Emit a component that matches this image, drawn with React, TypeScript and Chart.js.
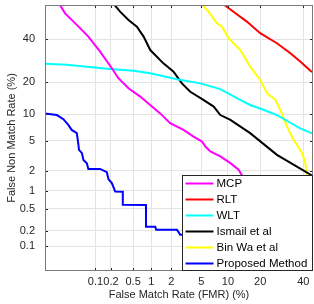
import React, { useEffect, useRef } from 'react';
import { Chart, Scale, registerables } from 'chart.js';

Chart.register(...registerables);

// ---- data (percent) ----
const xTicks = [0.1, 0.2, 0.5, 1, 2, 5, 10, 20, 40];
const yTicks = [0.1, 0.2, 0.5, 1, 2, 5, 10, 20, 40];
const xRange = [0.0079, 45.2];
const yRange = [0.0306, 58.4];

const seriesLabels = ['MCP', 'RLT', 'WLT', 'Ismail et al', 'Bin Wa et al', 'Proposed Method'];
const seriesColors = ['#ff00ff', '#ff0000', '#00ffff', '#000000', '#ffff00', '#0000ff'];

const mcpX = [0.016, 0.0229, 0.0413, 0.072, 0.124, 0.208, 0.275, 0.416, 0.66, 1.02, 1.37, 1.92, 2.95, 4.0, 5.1, 5.6, 6.4, 8.3, 10.6, 12.8, 14.2, 20];
const mcpY = [60, 53.9, 47.6, 41.3, 33.5, 25.7, 21.5, 17.7, 14.9, 11.96, 10.2, 8.0, 6.73, 5.62, 4.89, 4.24, 3.66, 3.15, 2.55, 2.06, 1.57, 0.86];

const rltX = [8.3, 11.4, 15.3, 20, 27, 33.4, 38.4, 43.8, 46];
const rltY = [60, 54.8, 49.4, 43.1, 37.8, 32.7, 28.7, 24.6, 23.5];

const wltX = [0.0075, 0.025, 0.067, 0.193, 0.51, 0.96, 2.4, 4.85, 8.3, 12.3, 16.4, 21.3, 27, 33.4, 38.4, 43.8, 46];
const wltY = [27.7, 27.2, 26.4, 25.4, 24.6, 23.5, 21.1, 19.5, 17.4, 14.4, 12.4, 11.1, 9.8, 8.1, 7.0, 6.26, 6.0];

const ismailX = [0.21, 0.295, 0.416, 0.58, 0.75, 0.96, 1.53, 2.15, 2.81, 3.63, 5.3, 7.0, 8.3, 10.6, 16.4, 27, 36.7, 46];
const ismailY = [60, 54.8, 50.3, 46.6, 41.3, 34.3, 27.9, 24.2, 19.5, 16.5, 13.9, 11.96, 9.8, 8.7, 6.17, 3.31, 2.29, 1.62];

const binWaX = [4.8, 6.1, 7.6, 8.65, 10.2, 13.3, 16.4, 20, 22.7, 26.3, 29.3, 31.7, 35, 39.4, 41.1, 41.6, 42.7];
const binWaY = [60, 54.8, 48.5, 46.6, 40.4, 34.3, 26.4, 20.8, 16.0, 13.9, 10.2, 7.34, 5.13, 3.48, 2.55, 1.95, 1.23];

const proposedX = [0.0075, 0.0149, 0.021, 0.027, 0.032, 0.0413, 0.0447, 0.046, 0.053, 0.057, 0.067, 0.072, 0.124, 0.167, 0.18, 0.208, 0.24, 0.33, 0.33, 0.82, 0.82, 1.15, 1.19, 2.4, 2.66, 3.63];
const proposedY = [10.2, 9.8, 8.85, 7.67, 6.73, 6.17, 4.45, 3.84, 3.48, 2.83, 2.55, 2.12, 2.12, 1.9, 1.5, 1.31, 0.97, 0.96, 0.587, 0.58, 0.24, 0.24, 0.21, 0.21, 0.17, 0.17];

const seriesX = [mcpX, rltX, wltX, ismailX, binWaX, proposedX];
const seriesY = [mcpY, rltY, wltY, ismailY, binWaY, proposedY];

// ---- normal deviate helpers ----
function probit(p: number): number {
  const a = [-3.969683028665376e1, 2.209460984245205e2, -2.759285104469687e2, 1.38357751867269e2, -3.066479806614716e1, 2.506628277459239];
  const b = [-5.447609879822406e1, 1.615858368580409e2, -1.556989798598866e2, 6.680131188771972e1, -1.328068155288572e1];
  const c = [-7.784894002430293e-3, -3.223964580411365e-1, -2.400758277161838, -2.549732539343734, 4.374664141464968, 2.938163982698783];
  const d = [7.784695709041462e-3, 3.224671290700398e-1, 2.445134137142996, 3.754408661907416];
  const pl = 0.02425;
  if (p <= 0) return -8;
  if (p >= 1) return 8;
  if (p < pl) {
    const q = Math.sqrt(-2 * Math.log(p));
    return (((((c[0] * q + c[1]) * q + c[2]) * q + c[3]) * q + c[4]) * q + c[5]) / ((((d[0] * q + d[1]) * q + d[2]) * q + d[3]) * q + 1);
  }
  if (p <= 1 - pl) {
    const q = p - 0.5;
    const r = q * q;
    return ((((((a[0] * r + a[1]) * r + a[2]) * r + a[3]) * r + a[4]) * r + a[5]) * q) / (((((b[0] * r + b[1]) * r + b[2]) * r + b[3]) * r + b[4]) * r + 1);
  }
  const q = Math.sqrt(-2 * Math.log(1 - p));
  return -(((((c[0] * q + c[1]) * q + c[2]) * q + c[3]) * q + c[4]) * q + c[5]) / ((((d[0] * q + d[1]) * q + d[2]) * q + d[3]) * q + 1);
}

function normCdf(z: number): number {
  const t = 1 / (1 + 0.3275911 * Math.abs(z) / Math.SQRT2);
  const y = 1 - (((((1.061405429 * t - 1.453152027) * t) + 1.421413741) * t - 0.284496736) * t + 0.254829592) * t * Math.exp(-(z * z) / 2);
  return z >= 0 ? 0.5 * (1 + y) : 0.5 * (1 - y);
}

class ProbitScale extends (Scale as any) {
  static id = 'probit';
  static defaults = {};
  determineDataLimits() {
    this.min = this.options.min;
    this.max = this.options.max;
  }
  buildTicks() {
    return [];
  }
  getLabelForValue(v: number) {
    return String(v);
  }
  getPixelForValue(v: number) {
    const a = probit(this.min / 100);
    const b = probit(this.max / 100);
    return this.getPixelForDecimal((probit(v / 100) - a) / (b - a));
  }
  getValueForPixel(px: number) {
    const a = probit(this.min / 100);
    const b = probit(this.max / 100);
    return 100 * normCdf(a + this.getDecimalForPixel(px) * (b - a));
  }
}
Chart.register(ProbitScale as any);

const FONT = { family: '"Liberation Sans", Arial, Helvetica, sans-serif', size: 11 };
const TEXT = '#262626';

const framePlugin = {
  id: 'frame',
  afterDatasetsDraw(chart: any) {
    const { ctx, chartArea: a, scales } = chart;
    ctx.save();
    ctx.strokeStyle = '#262626';
    ctx.lineWidth = 1;
    const tl = 3;
    ctx.beginPath();
    scales.x.ticks.forEach((t: any) => {
      const px = Math.round(scales.x.getPixelForValue(t.value)) + 0.5;
      ctx.moveTo(px, a.bottom);
      ctx.lineTo(px, a.bottom - tl);
      ctx.moveTo(px, a.top);
      ctx.lineTo(px, a.top + tl);
    });
    scales.y.ticks.forEach((t: any) => {
      const py = Math.round(scales.y.getPixelForValue(t.value)) + 0.5;
      ctx.moveTo(a.left, py);
      ctx.lineTo(a.left + tl, py);
      ctx.moveTo(a.right, py);
      ctx.lineTo(a.right - tl, py);
    });
    ctx.stroke();
    ctx.strokeStyle = '#7a7a7a';
    ctx.strokeRect(a.left + 0.5, a.top + 0.5, a.right - a.left - 1, a.bottom - a.top - 1);
    ctx.restore();
  },
  afterDraw(chart: any) {
    const { ctx, chartArea: a } = chart;
    const ds = chart.data.datasets;
    const rowH = 16;
    const boxLeft = 182.5;
    const boxTop = 175.5;
    const boxRight = a.right - 0.5;
    const boxBottom = a.bottom - 0.5;
    ctx.save();
    ctx.fillStyle = '#ffffff';
    ctx.fillRect(boxLeft, boxTop, boxRight - boxLeft, boxBottom - boxTop);
    ctx.strokeStyle = '#262626';
    ctx.lineWidth = 1;
    ctx.strokeRect(boxLeft, boxTop, boxRight - boxLeft, boxBottom - boxTop);
    ctx.font = `${FONT.size + 0.5}px ${FONT.family}`;
    ctx.textBaseline = 'middle';
    ctx.textAlign = 'left';
    ds.forEach((d: any, i: number) => {
      const y = boxTop + 8 + i * rowH;
      ctx.strokeStyle = d.borderColor;
      ctx.lineWidth = 2;
      ctx.beginPath();
      ctx.moveTo(boxLeft + 3, y);
      ctx.lineTo(boxLeft + 31, y);
      ctx.stroke();
      ctx.fillStyle = '#000';
      ctx.fillText(d.label, boxLeft + 34, y);
    });
    ctx.restore();
  },
};

export default function App() {
  const ref = useRef<HTMLCanvasElement | null>(null);
  useEffect(() => {
    if (!ref.current) return;
    const datasets = seriesLabels.map((label, i) => ({
      label,
      data: seriesX[i].map((x, j) => ({ x, y: seriesY[i][j] })),
      borderColor: seriesColors[i],
      backgroundColor: seriesColors[i],
      borderWidth: 2,
      pointRadius: 0,
      tension: 0,
      fill: false,
    }));
    const chart = new Chart(ref.current, {
      type: 'line',
      data: { datasets },
      options: {
        animation: false,
        responsive: false,
        events: [],
        layout: { padding: { top: 5, right: 1, left: 0, bottom: 0 } },
        plugins: { legend: { display: false }, tooltip: { enabled: false } },
        scales: {
          x: {
            type: 'probit' as any,
            position: 'bottom',
            min: xRange[0],
            max: xRange[1],
            afterBuildTicks: (s: any) => {
              s.ticks = xTicks.map((v) => ({ value: v }));
            },
            afterFit: (s: any) => {
              s.height = 33;
              s.paddingLeft = 0;
              s.paddingRight = 0;
              s.paddingTop = 0;
              s.paddingBottom = 0;
            },
            grid: { color: '#e4e4e4', drawTicks: false, lineWidth: 1 },
            border: { display: false },
            ticks: {
              autoSkip: false,
              maxRotation: 0,
              minRotation: 0,
              padding: 4,
              color: TEXT,
              font: FONT,
              callback: (v: any) => String(v),
            },
            title: {
              display: true,
              text: 'False Match Rate (FMR) (%)',
              color: TEXT,
              font: FONT,
              padding: { top: 0, bottom: 2 },
            },
          },
          y: {
            type: 'probit' as any,
            position: 'left',
            min: yRange[0],
            max: yRange[1],
            afterBuildTicks: (s: any) => {
              s.ticks = yTicks.map((v) => ({ value: v }));
            },
            afterFit: (s: any) => {
              s.width = 45;
              s.paddingLeft = 0;
              s.paddingRight = 0;
              s.paddingTop = 0;
              s.paddingBottom = 0;
            },
            grid: { color: '#e4e4e4', drawTicks: false, lineWidth: 1 },
            border: { display: false },
            ticks: {
              autoSkip: false,
              padding: 10,
              color: TEXT,
              font: FONT,
              callback: (v: any) => String(v),
            },
            title: {
              display: true,
              text: 'False Non Match Rate (%)',
              color: TEXT,
              font: FONT,
              padding: { top: 5, bottom: 0 },
            },
          },
        },
      } as any,
      plugins: [framePlugin],
    });
    return () => chart.destroy();
  }, []);
  return (
    <div style={{ position: 'absolute', left: 0, top: 0, width: 314, height: 304, background: '#fff' }}>
      <canvas ref={ref} width={314} height={304} style={{ display: 'block', width: 314, height: 304 }} />
    </div>
  );
}
